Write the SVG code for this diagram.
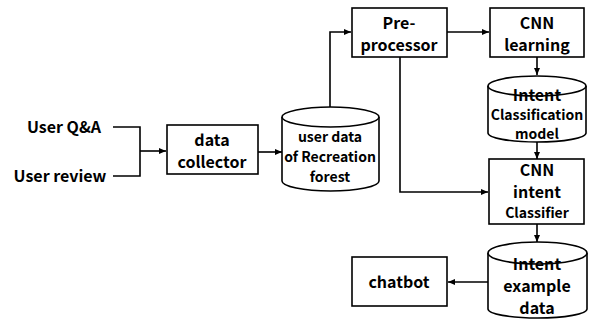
<svg xmlns="http://www.w3.org/2000/svg" width="591" height="321" viewBox="0 0 591 321">
<defs>
<marker id="ah" markerWidth="8" markerHeight="8" refX="7" refY="4" orient="auto" markerUnits="userSpaceOnUse"><path d="M0,1 L7,4 L0,7 Z" fill="#000"/></marker>
<style>
.b{fill:#fff;stroke:#000;stroke-width:1.6}
.c{fill:none;stroke:#000;stroke-width:1.6}
.t{font-family:"Noto Sans CJK KR","Noto Sans",sans-serif;font-weight:bold;fill:#000;text-anchor:middle}
.l{font-size:16px}
.s{font-size:14px}
</style>
</defs>
<rect width="591" height="321" fill="#fff"/>
<g id="connectors">
<path class="c" d="M113,127 H140 V176 H113"/>
<path class="c" d="M140,151 H166" marker-end="url(#ah)"/>
<path class="c" d="M258,152 H282" marker-end="url(#ah)"/>
<path class="c" d="M330,108 V32 H351" marker-end="url(#ah)"/>
<path class="c" d="M447,32 H489" marker-end="url(#ah)"/>
<path class="c" d="M537,57 V75" marker-end="url(#ah)"/>
<path class="c" d="M537,142 V159" marker-end="url(#ah)"/>
<path class="c" d="M400,57 V192 H488" marker-end="url(#ah)"/>
<path class="c" d="M537,224 V242" marker-end="url(#ah)"/>
<path class="c" d="M488,282 H448" marker-end="url(#ah)"/>
</g>
<g id="userqa"><text class="t l" x="64" y="133">User Q&amp;A</text></g>
<g id="userreview"><text class="t l" x="60" y="182">User review</text></g>
<g id="collector">
<rect class="b" x="167" y="125" width="91" height="49"/>
<text class="t l" x="212" y="146">data</text>
<text class="t l" x="212" y="168">collector</text>
</g>
<g id="userdata">
<path class="b" d="M282,117 V181 A48.5,10 0 0 0 379,181 V117"/>
<ellipse class="b" cx="330.5" cy="117" rx="48.5" ry="10"/>
<text class="t s" x="330" y="142">user data</text>
<text class="t s" x="330" y="162">of Recreation</text>
<text class="t s" x="330" y="182">forest</text>
</g>
<g id="preprocessor">
<rect class="b" x="352" y="8" width="95" height="49"/>
<text class="t l" x="399" y="29">Pre-</text>
<text class="t l" x="399" y="51">processor</text>
</g>
<g id="cnnlearning">
<rect class="b" x="490" y="8" width="94" height="49"/>
<text class="t l" x="537" y="29">CNN</text>
<text class="t l" x="537" y="51">learning</text>
</g>
<g id="model">
<path class="b" d="M488,86 V133 A49,9 0 0 0 586,133 V86"/>
<ellipse class="b" cx="537" cy="86" rx="49" ry="10"/>
<text class="t l" x="537" y="101">Intent</text>
<text class="t s" x="537" y="120">Classification</text>
<text class="t s" x="537" y="139">model</text>
</g>
<g id="classifier">
<rect class="b" x="489" y="159" width="95" height="65"/>
<text class="t l" x="537" y="176">CNN</text>
<text class="t l" x="537" y="198">intent</text>
<text class="t s" x="537" y="218">Classifier</text>
</g>
<g id="example">
<path class="b" d="M488,253 V309 A49.5,9 0 0 0 587,309 V253"/>
<ellipse class="b" cx="537.5" cy="253" rx="49.5" ry="11"/>
<text class="t l" x="537" y="270">Intent</text>
<text class="t l" x="537" y="292">example</text>
<text class="t l" x="537" y="314">data</text>
</g>
<g id="chatbot">
<rect class="b" x="352" y="257" width="95" height="49"/>
<text class="t l" x="399" y="288">chatbot</text>
</g>
</svg>
